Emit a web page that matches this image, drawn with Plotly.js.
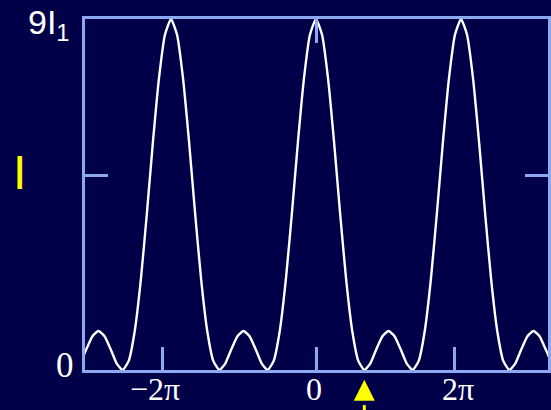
<!DOCTYPE html>
<html>
<head>
<meta charset="utf-8">
<script src="https://cdn.plot.ly/plotly-3.0.1.min.js"></script>
<style>html,body{margin:0;padding:0;background:#000048;}#chart{width:551px;height:410px;}</style>
</head>
<body>
<div id="chart"></div>
<script>
// Phase difference (degrees) and intensity (units of I1)
var phaseDeg = [-585,-570,-555,-540,-525,-510,-495,-480,-465,-450,-435,-420,-405,-390,-375,-360,
  -345,-330,-315,-300,-285,-270,-255,-240,-225,-210,-195,-180,-165,-150,-135,-120,-105,-90,-75,-60,-45,-30,-15,
  0,15,30,45,60,75,90,105,120,135,150,165,180,195,210,225,240,255,270,285,300,315,330,345,
  360,375,390,405,420,435,450,465,480,495,510,525,540,555,570,585];
var intensity = [0.172,0.536,0.868,1,0.868,0.536,0.172,0,0.233,1,2.303,4,5.828,7.464,8.596,9,
  8.596,7.464,5.828,4,2.303,1,0.233,0,0.172,0.536,0.868,1,0.868,0.536,0.172,0,0.233,1,2.303,4,5.828,7.464,8.596,
  9,8.596,7.464,5.828,4,2.303,1,0.233,0,0.172,0.536,0.868,1,0.868,0.536,0.172,0,0.233,1,2.303,4,5.828,7.464,8.596,
  9,8.596,7.464,5.828,4,2.303,1,0.233,0,0.172,0.536,0.868,1,0.868,0.536,0.172];
var xTickPos = [-380, 0, 345];
var xTickText = ['\u22122\u03c0', '0', '2\u03c0'];
var yTickPos = [5];
var yTop = '9I<sub>1</sub>';
var yZero = '0';
var yTitle = 'I';
var markedPhase = 120;

var bg = '#000048';
var axisCol = '#8CA8F0';

var trace = {
  x: phaseDeg, y: intensity, type: 'scatter', mode: 'lines',
  line: {color: '#ffffff', width: 2.4, shape: 'spline', smoothing: 0.5}, hoverinfo: 'skip', showlegend: false
};
var topTicks = {x: [0], y: [0], xaxis: 'x2', yaxis: 'y', mode: 'markers',
  marker: {opacity: 0}, showlegend: false, hoverinfo: 'skip'};

var annotations = xTickText.map(function (t, i) {
  return {x: xTickPos[i] + (i === 0 ? -20 : (i === 2 ? 8 : -4)), xref: 'x', y: -0.055, yref: 'paper',
    text: t, showarrow: false, yanchor: 'middle', xanchor: 'center',
    font: {family: 'Liberation Serif, Times New Roman, serif', size: 32, color: '#ffffff'}};
});
annotations.push({x: -0.02, xref: 'paper', y: 0.014, yref: 'paper', text: yZero, showarrow: false,
  xanchor: 'right', yanchor: 'middle',
  font: {family: 'Liberation Serif, Times New Roman, serif', size: 35, color: '#ffffff'}});
annotations.push({x: -0.128, xref: 'paper', y: 0.985, yref: 'paper', text: yTop, showarrow: false,
  xanchor: 'left', yanchor: 'middle',
  font: {family: 'Liberation Sans, Arial, sans-serif', size: 34, color: '#ffffff'}});
annotations.push({x: -0.1415, xref: 'paper', y: 0.564, yref: 'paper', text: yTitle, showarrow: false,
  xanchor: 'center', yanchor: 'middle',
  font: {family: 'Liberation Sans, Arial, sans-serif', size: 48, color: '#ffff00'}});
annotations.push({x: markedPhase, xref: 'x', y: -0.028, yref: 'paper', text: '', showarrow: true,
  ax: 0, ay: 16, arrowhead: 2, arrowsize: 1.4, arrowwidth: 3, arrowcolor: '#ffff00', standoff: 0});

var layout = {
  width: 551, height: 410,
  margin: {l: 85, r: 3, t: 19, b: 40, pad: 0},
  paper_bgcolor: bg, plot_bgcolor: bg,
  showlegend: false,
  xaxis: {range: [-573.5, 576], showgrid: false, zeroline: false, showline: true, linecolor: axisCol,
    linewidth: 3, mirror: true, ticks: 'inside', ticklen: 23, tickwidth: 3, tickcolor: axisCol,
    tickvals: xTickPos, showticklabels: false, fixedrange: true},
  xaxis2: {range: [-573.5, 576], overlaying: 'x', side: 'top', showgrid: false, zeroline: false,
    showline: false, ticks: 'inside', ticklen: 24, tickwidth: 3, tickcolor: axisCol,
    tickvals: [0], showticklabels: false, fixedrange: true},
  yaxis: {range: [0, 9], showgrid: false, zeroline: false, showline: true, linecolor: axisCol,
    linewidth: 3, mirror: 'ticks', ticks: 'inside', ticklen: 23, tickwidth: 3, tickcolor: axisCol,
    tickvals: yTickPos, showticklabels: false, fixedrange: true},
  annotations: annotations,
  shapes: [{type: 'line', xref: 'x', yref: 'paper', x0: markedPhase, x1: markedPhase,
    y0: -0.1, y1: -0.14, line: {color: '#ffff00', width: 3}}]
};

Plotly.newPlot('chart', [trace, topTicks], layout, {displayModeBar: false, staticPlot: true});
</script>
</body>
</html>
